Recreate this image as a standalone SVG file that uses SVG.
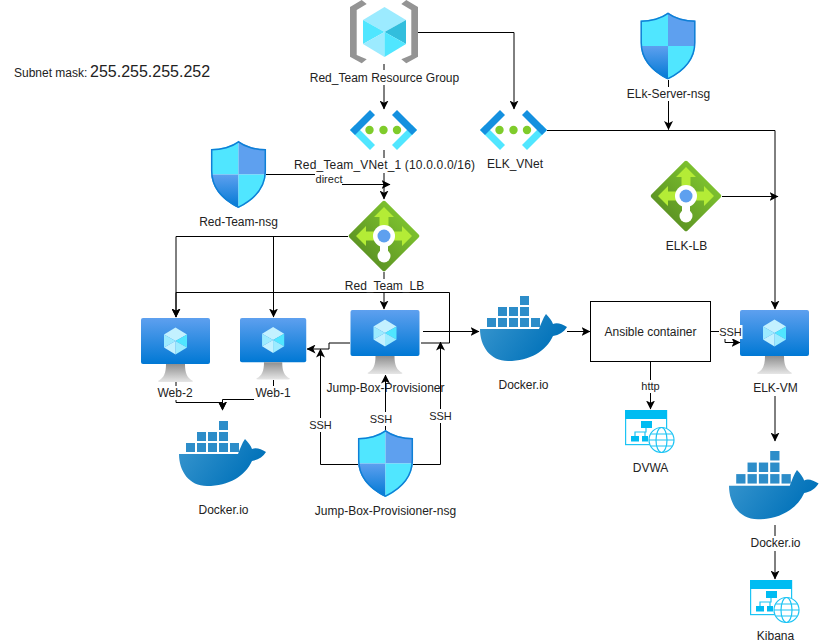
<svg xmlns="http://www.w3.org/2000/svg" xmlns:xlink="http://www.w3.org/1999/xlink" width="821" height="644" viewBox="0 0 821 644">
<style>
text{font-family:"Liberation Sans",Arial,sans-serif;font-size:12px;fill:#222;text-anchor:middle}
.e{fill:none;stroke:#000;stroke-width:1}
.a{marker-end:url(#arr)}
.bg{fill:#fff}
.s{font-size:11px}
.app{fill:none;stroke:#1cc4f4;stroke-width:1.2}
.appf{fill:#00bcf2}
</style>
<defs>
<marker id="arr" viewBox="0 0 9 9" refX="8.500" refY="4.500" markerWidth="9" markerHeight="9" markerUnits="userSpaceOnUse" orient="auto"><path d="M0,0 L9,4.500 L0,9 L2.200,4.500 Z" fill="#000"/></marker>
<linearGradient id="gVm" x1="0" y1="0" x2="0" y2="1"><stop offset="0" stop-color="#5ea0ef"/><stop offset="1" stop-color="#0078d4"/></linearGradient>
<linearGradient id="gSt" x1="0" y1="0" x2="0" y2="1"><stop offset="0" stop-color="#8f8f8f"/><stop offset="1" stop-color="#e6e6e6"/></linearGradient>
<linearGradient id="gLb" x1="0" y1="0" x2="0" y2="1"><stop offset="0" stop-color="#7cc02e"/><stop offset="1" stop-color="#5e9624"/></linearGradient>
<linearGradient id="gDk" x1="0" y1="0" x2="1" y2="0.4"><stop offset="0" stop-color="#3a97cf"/><stop offset="1" stop-color="#0071b9"/></linearGradient>
<clipPath id="cShield"><path d="M27.5,0 C34,5 45,8 55,8 V30 C55,48 42,60 27.5,67 C13,60 0,48 0,30 V8 C10,8 21,5 27.5,0Z"/></clipPath>
<g id="shield">
<g clip-path="url(#cShield)">
<rect x="0" y="0" width="27.5" height="33.5" fill="#50e6ff"/>
<rect x="27.5" y="0" width="27.5" height="33.5" fill="#5ea0ef"/>
<rect x="0" y="33.5" width="27.5" height="33.5" fill="url(#gVm)"/>
<rect x="27.5" y="33.5" width="27.5" height="33.5" fill="#50e6ff"/>
</g>
<path d="M27.5,0.800 C34,5.800 45,8.800 54.300,8.800 V30 C54.300,47 42,59 27.500,66.200 C13,59 0.700,47 0.700,30 V8.800 C10,8.800 21,5.800 27.500,0.800Z" fill="none" stroke="#0f7fd6" stroke-width="1.500"/>
</g>
<g id="cube">
<polygon points="0,7 11.5,0 23,7 11.5,13.5" fill="#c3f1ff"/>
<polygon points="0,7 11.5,13.5 0,20" fill="#9cebff"/>
<polygon points="23,7 11.5,13.5 23,20" fill="#50e6ff"/>
<polygon points="23,20 11.5,13.5 11.5,27" fill="#9cebff"/>
<polygon points="0,20 11.5,13.5 11.5,27" fill="#c3f1ff"/>
</g>
<g id="vm">
<rect x="0" y="0" width="69" height="46" rx="2" fill="url(#gVm)"/>
<path d="M25,46 H44 C44,55 46,60 52,63 Q52,64 50,64 H19 Q17,64 17,63 C23,60 25,55 25,46 Z" fill="url(#gSt)"/>
<use xlink:href="#cube" href="#cube" x="23" y="9.500"/>
</g>
<g id="lb">
<rect x="10.5" y="10.5" width="51" height="51" rx="2" transform="rotate(45 36 36)" fill="url(#gLb)"/>
<g fill="#b4ec36">
<polygon points="36,7 46,17 40.500,17 40.500,26 31.500,26 31.500,17 26,17"/>
<polygon points="8,36 18,26 18,31.500 26,31.500 26,40.500 18,40.500 18,46"/>
<polygon points="64,36 54,26 54,31.500 46,31.500 46,40.500 54,40.500 54,46"/>
</g>
<rect x="32" y="40" width="8" height="14" fill="#fff"/>
<circle cx="36" cy="36" r="11" fill="#fff"/>
<circle cx="36" cy="36" r="6.500" fill="#5ea0ef"/>
<circle cx="36" cy="56" r="6.500" fill="#fff"/>
</g>
<g id="vnet">
<polygon points="0,20 5,15 25,35 20,40" fill="#50e6ff"/>
<polygon points="0,20 20,0 25,5 5,25" fill="#1490df"/>
<polygon points="67,20 62,15 42,35 47,40" fill="#50e6ff"/>
<polygon points="67,20 47,0 42,5 62,25" fill="#1490df"/>
<circle cx="19.500" cy="20" r="4.200" fill="#7fcc2b"/><circle cx="33.500" cy="20" r="4.200" fill="#7fcc2b"/><circle cx="47" cy="20" r="4.200" fill="#7fcc2b"/>
</g>
<g id="docker">
<g fill="#2d8dc9">
<rect x="7" y="22" width="9" height="9"/><rect x="18" y="22" width="9" height="9"/><rect x="29" y="22" width="9" height="9"/><rect x="40" y="22" width="9" height="9"/><rect x="51" y="22" width="9" height="9"/>
<rect x="18" y="11" width="9" height="9"/><rect x="29" y="11" width="9" height="9"/><rect x="40" y="11" width="9" height="9"/>
<rect x="40" y="0" width="9" height="9"/>
</g>
<path d="M0,33 L59,33 C61,28 63,22 66,18 C69,21 72,25 73,28 C77,26 82,28 87,31 C84,36 79,39 73,40 C66,55 50,65 28,65 C10,65 0,50 0,33 Z" fill="url(#gDk)"/>
</g>
<g id="app">
<rect class="app" x="0.6" y="0.6" width="41" height="34"/>
<rect class="appf" x="0" y="0" width="42" height="9"/>
<rect class="appf" x="16" y="11" width="11" height="7"/>
<rect class="appf" x="6" y="26" width="8" height="5.500"/>
<rect class="appf" x="17" y="26" width="6" height="5.500"/>
<path class="app" d="M21,18 V22 H10 V26 M20,22 V26"/>
<circle cx="36.500" cy="30" r="12.500" fill="#fff" stroke="#1cc4f4" stroke-width="1.200"/>
<ellipse class="app" cx="36.500" cy="30" rx="5.500" ry="12.500"/>
<path class="app" d="M24,30 H49 M26,24 H47 M26,36 H47"/>
</g>
</defs>
<rect width="821" height="644" fill="#fff"/>
<g id="jump"><use xlink:href="#vm" href="#vm" x="350.500" y="310"/><text x="385.500" y="392">Jump-Box-Provisioner</text></g>
<g id="elkvm"><use xlink:href="#vm" href="#vm" x="740" y="310"/><text x="775.500" y="392">ELK-VM</text></g>
<g id="connectors">
<path class="e a" d="M384,64 V109"/>
<path class="e a" d="M418,32.500 H514 V109"/>
<path class="e a" d="M384,150 V199"/>
<path class="e a" d="M266,174.500 H329 V184.500 H390"/>
<path class="e a" d="M348,236.500 H176 V317"/>
<path class="e a" d="M273.500,236.500 V317"/>
<path class="e a" d="M384,272 V309"/>
<path class="e a" d="M421,343 H449.500 V292.500 H176 V317"/>
<path class="e a" d="M350,343 H329 V349 H307"/>
<path class="e a" d="M423,331.500 H479"/>
<path class="e a" d="M567,331.500 H590"/>
<path class="e a" d="M711,331.500 H725 V342.500 H740"/>
<path class="e a" d="M650.500,361 V409"/>
<path class="e a" d="M547,130.500 H775 V309"/>
<path class="e a" d="M668.500,80 V129.500"/>
<path class="e a" d="M722,196.500 H778"/>
<path class="e a" d="M775,396 V441"/>
<path class="e a" d="M775,525 V579"/>
<path class="e a" d="M176,382 V402.500 H222.500 V410"/>
<path class="e a" d="M273.500,380 V399.500 H222.500 V410"/>
<path class="e a" d="M358,464.500 H320.500 V349"/>
<path class="e a" d="M413,464.500 H440.500 V342"/>
<path class="e a" d="M385.500,430 V375"/>
<rect class="bg" x="315" y="172" width="27" height="13"/><text class="s" x="329" y="183">direct</text>
<rect class="bg" x="309" y="418" width="23" height="14"/><text class="s" x="320.500" y="429">SSH</text>
<rect class="bg" x="370" y="412" width="23" height="14"/><text class="s" x="381" y="423">SSH</text>
<rect class="bg" x="429" y="409" width="23" height="14"/><text class="s" x="440.500" y="420">SSH</text>
<rect class="bg" x="719" y="325" width="23.500" height="14"/><text class="s" x="730.500" y="336">SSH</text>
<rect class="bg" x="641" y="380" width="19" height="13"/><text class="s" x="650.500" y="390">http</text>
</g>
<g id="subnet"><text x="14" y="77" style="text-anchor:start">Subnet mask:<tspan x="90" style="font-size:16px">255.255.255.252</tspan></text></g>
<g id="rg">
<g fill="#949494">
<polygon points="350,7 361.700,0 366.700,4 356.700,10 356.700,55 366.700,59.300 361.700,63.300 350,56.700"/>
<polygon points="418,7 406.300,0 401.300,4 411.300,10 411.300,55 401.300,59.300 406.300,63.300 418,56.700"/>
</g>
<polygon points="384.500,7 406,20 384.500,32 363,20" fill="#9cebff"/>
<polygon points="363,20 384.500,32 363,44" fill="#50e6ff"/>
<polygon points="406,20 384.500,32 406,44" fill="#32bedd"/>
<polygon points="363,44 384.500,32 384.500,57" fill="#9cebff"/>
<polygon points="406,44 384.500,32 384.500,57" fill="#50e6ff"/>
<rect class="bg" x="308" y="70" width="153" height="15"/><text x="384.500" y="82">Red_Team Resource Group</text>
</g>
<g id="vnet1"><use xlink:href="#vnet" href="#vnet" x="350" y="110"/><rect class="bg" x="293" y="158" width="183" height="15"/><text x="384.500" y="169" textLength="181">Red_Team_VNet_1 (10.0.0.0/16)</text></g>
<g id="vnet2"><use xlink:href="#vnet" href="#vnet" x="480" y="110"/><text x="515" y="168">ELK_VNet</text></g>
<g id="nsg-red"><use xlink:href="#shield" href="#shield" x="211" y="141"/><text x="238.500" y="226">Red-Team-nsg</text></g>
<g id="nsg-elk"><use xlink:href="#shield" href="#shield" x="640.500" y="12.500"/><rect class="bg" x="626" y="87" width="84" height="14"/><text x="668.500" y="98">ELk-Server-nsg</text></g>
<g id="nsg-jump"><use xlink:href="#shield" href="#shield" x="358" y="430"/><text x="385.500" y="515">Jump-Box-Provisioner-nsg</text></g>
<g id="lb-red"><use xlink:href="#lb" href="#lb" x="348" y="200"/><rect class="bg" x="345" y="279" width="79" height="13"/><text x="384.500" y="290">Red_Team_LB</text></g>
<g id="lb-elk"><use xlink:href="#lb" href="#lb" x="650" y="160"/><text x="686.500" y="250">ELK-LB</text></g>
<g id="web2"><use xlink:href="#vm" href="#vm" x="141" y="318"/><rect class="bg" x="155" y="386" width="41" height="14"/><text x="175" y="397">Web-2</text></g>
<g id="web1"><use xlink:href="#vm" href="#vm" transform="translate(240 318) scale(.96)"/><rect class="bg" x="254" y="386" width="39" height="14"/><text x="273" y="397">Web-1</text></g>
<g id="docker1"><use xlink:href="#docker" href="#docker" x="179" y="421"/><text x="223.500" y="514">Docker.io</text></g>
<g id="docker2"><use xlink:href="#docker" href="#docker" x="480" y="296"/><text x="523.500" y="389">Docker.io</text></g>
<g id="docker3"><use xlink:href="#docker" href="#docker" transform="translate(729 451) scale(1.03 1.05)"/><rect class="bg" x="749" y="536" width="53" height="15"/><text x="775.500" y="547">Docker.io</text></g>
<g id="ansible"><rect x="590.500" y="301.500" width="120" height="60" fill="#fff" stroke="#000"/><text x="650.500" y="336">Ansible container</text></g>
<g id="dvwa"><use xlink:href="#app" href="#app" x="625" y="410"/><text x="650.500" y="472">DVWA</text></g>
<g id="kibana"><use xlink:href="#app" href="#app" x="750" y="580"/><text x="775.500" y="640">Kibana</text></g>
</svg>
